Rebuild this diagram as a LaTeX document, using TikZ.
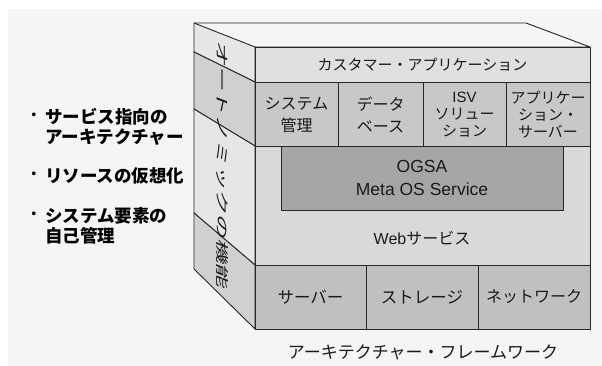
\documentclass[tikz,border=0pt]{standalone}
\usepackage{fontspec}
\setmainfont{Noto Sans CJK JP}
\newfontfamily\lat{Liberation Sans}
\begin{document}
\begin{tikzpicture}[x=1pt,y=-1pt,line join=round,
  edge/.style={draw=black!85,line width=0.9pt},
  lbl/.style={inner sep=0pt,align=center,text=black!90},
  fs15/.style={font=\fontsize{15}{17}\selectfont},
  fs16/.style={font=\fontsize{16}{22}\selectfont},
  dot/.style={inner sep=0pt,font=\fontsize{17.5}{20}\selectfont},
  bul/.style={inner sep=0pt,anchor=west,align=left,font=\fontsize{17.5}{20}\selectfont\bfseries}]
\definecolor{bg}{HTML}{F5F5F5}
\definecolor{sidelight}{HTML}{E6E6E6}
\definecolor{sidedark}{HTML}{D0D0D0}
\definecolor{toprow}{HTML}{E0E0E0}
\definecolor{midrow}{HTML}{C8C8C8}
\definecolor{webc}{HTML}{D9D9D9}
\definecolor{ogsac}{HTML}{A6A6A6}
\definecolor{botrow}{HTML}{C0C0C0}
\useasboundingbox (0,0) rectangle (602,366);
\fill[white] (0,0) rectangle (602,366);
\fill[bg] (8,9) rectangle (602,366);
% side face
\path[edge,fill=sidelight] (194,23) -- (255,47) -- (255,82) -- (194,52) -- cycle;
\path[edge,fill=sidedark] (194,52) -- (255,82) -- (255,146) -- (194,109) -- cycle;
\path[edge,fill=sidelight] (194,109) -- (255,146) -- (255,265) -- (194,213) -- cycle;
\path[edge,fill=sidedark] (194,213) -- (255,265) -- (255,329) -- (194,269) -- cycle;
% top face
\path[edge] (194,23) -- (526,23) -- (590,47) -- (255,47);
% front rows
\path[edge,fill=toprow] (255,47) rectangle (590,82);
\node[lbl,fs15] (cust) at (422.5,64.5) {カスタマー・アプリケーション};
\path[edge,fill=midrow] (255,82) rectangle (338,146);
\path[edge,fill=midrow] (338,82) rectangle (423,146);
\path[edge,fill=midrow] (423,82) rectangle (506,146);
\path[edge,fill=midrow] (506,82) rectangle (590,146);
\node[lbl,fs16] (sys) at (296.5,115) {システム\\管理};
\node[lbl,fs16] (db) at (380.5,115) {データ\\ベース};
\node[lbl,fs15] (isv) at (464.5,115) {{\lat ISV}\\ソリュー\\ション};
\node[lbl,fs15] (appsv) at (548,115) {アプリケー\\ション・\\サーバー};
\path[edge,fill=webc] (255,146) rectangle (590,265);
\path[edge,fill=ogsac] (281,146) rectangle (563,210);
\node[lbl,font=\lat\fontsize{17.5}{23}\selectfont] (ogsa) at (422,178) {OGSA\\Meta OS Service};
\node[lbl,font=\fontsize{16}{20}\selectfont] (web) at (422,238) {{\lat Web}サービス};
\path[edge,fill=botrow] (255,265) rectangle (366,329);
\path[edge,fill=botrow] (366,265) rectangle (478,329);
\path[edge,fill=botrow] (478,265) rectangle (590,329);
\node[lbl,font=\fontsize{16.5}{20}\selectfont] (srv) at (310.5,297) {サーバー};
\node[lbl,font=\fontsize{16.5}{20}\selectfont] (stor) at (422,297) {ストレージ};
\node[lbl,font=\fontsize{16}{20}\selectfont] (net) at (534,297) {ネットワーク};
% vertical side text
\node[lbl,font=\fontsize{13}{15}\selectfont,cm={0,-1.9,1,-0.39,(0,0)},transform shape] (auto) at (222,166) {オートノミックの機能};
% caption
\node[lbl,font=\fontsize{17}{20}\selectfont] (cap) at (423,352) {アーキテクチャー・フレームワーク};
% bullets
\node[dot] (b1) at (34.5,117) {・};
\node[bul] (t1) at (45,127) {サービス指向の\\アーキテクチャー};
\node[dot] (b2) at (34.5,176) {・};
\node[bul] (t2) at (45,176) {リソースの仮想化};
\node[dot] (b3) at (34.5,216) {・};
\node[bul] (t3) at (45,226) {システム要素の\\自己管理};
\end{tikzpicture}
\end{document}
